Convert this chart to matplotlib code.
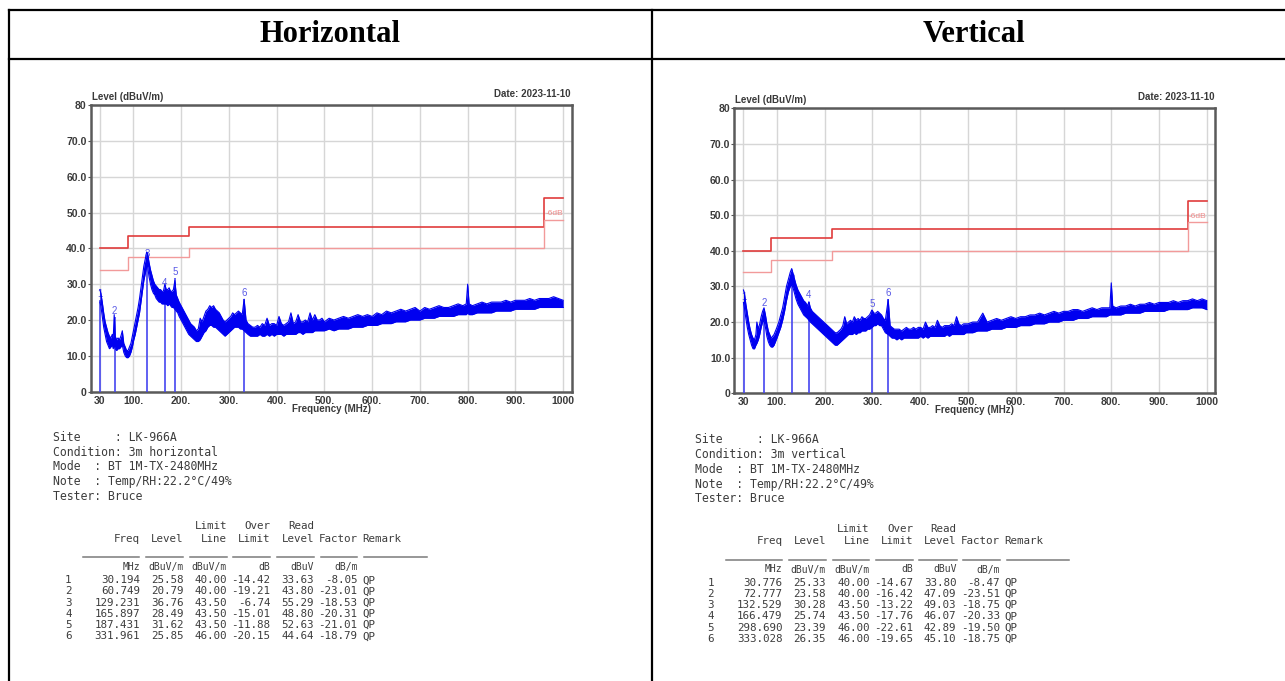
import matplotlib.pyplot as plt
from matplotlib.lines import Line2D
from matplotlib.transforms import ScaledTranslation

W, H = 1285, 681

# ---- scan trace, horizontal (band low / high) ----
h_freq = [30, 32, 35, 38, 41, 44, 47, 50, 53, 56, 58, 60, 62, 65, 68, 71, 74, 77, 80, 83,
          86, 89, 92, 95, 98, 101, 104, 107, 110, 113, 116, 119, 122, 125, 128, 130, 133, 136, 139, 142,
          145, 148, 151, 154, 157, 160, 163, 166, 169, 172, 175, 178, 181, 184, 187, 190, 193, 196, 200, 204,
          208, 212, 216, 220, 224, 228, 232, 236, 240, 244, 248, 252, 256, 260, 264, 268, 272, 276, 280, 284,
          288, 292, 296, 300, 304, 308, 312, 316, 320, 324, 328, 332, 336, 340, 345, 350, 355, 360, 365, 370,
          375, 380, 385, 390, 395, 400, 405, 410, 415, 420, 425, 430, 435, 440, 445, 450, 455, 460, 465, 470,
          475, 480, 485, 490, 495, 500, 510, 520, 530, 540, 550, 560, 570, 580, 590, 600, 610, 620, 630, 640,
          650, 660, 670, 680, 690, 700, 710, 720, 730, 740, 750, 760, 770, 780, 790, 797, 800, 803, 810, 820,
          830, 840, 850, 860, 870, 880, 890, 900, 910, 920, 930, 940, 950, 960, 970, 980, 990, 1000]
h_low = [25.0, 24.0, 21.0, 18.0, 16.0, 14.0, 13.0, 12.0, 12.5, 13.0, 12.0, 13.0, 12.0, 11.5, 12.0, 12.0, 12.5, 13.0, 11.0, 10.0,
         9.5, 9.5, 10.0, 11.0, 12.5, 14.5, 16.0, 18.0, 20.0, 22.0, 25.0, 28.0, 31.0, 33.0, 35.0, 35.0, 32.0, 30.0, 28.5, 27.5,
         27.0, 26.0, 25.5, 25.0, 25.0, 24.5, 24.5, 24.5, 24.5, 24.0, 24.5, 24.0, 23.5, 23.5, 23.0, 22.5, 22.0, 21.0, 20.0, 19.0,
         18.0, 17.0, 16.0, 15.5, 15.0, 14.5, 14.0, 14.0, 14.5, 15.5, 16.5, 17.0, 18.0, 18.5, 18.5, 18.0, 18.0, 17.5, 17.0, 16.5,
         16.0, 15.5, 16.0, 16.5, 17.0, 17.5, 18.0, 18.0, 18.0, 17.5, 17.5, 17.0, 16.5, 16.0, 15.5, 15.5, 15.5, 15.5, 16.0, 15.5,
         15.5, 16.0, 15.5, 16.0, 15.5, 16.0, 16.0, 16.0, 15.5, 16.0, 16.0, 16.0, 16.0, 16.0, 16.5, 16.5, 16.0, 16.5, 16.5, 16.5,
         16.5, 17.0, 17.0, 17.0, 17.0, 17.0, 17.5, 17.0, 17.5, 17.5, 17.5, 18.0, 18.0, 18.0, 18.5, 18.5, 18.5, 19.0, 19.0, 19.0,
         19.5, 19.5, 19.5, 20.0, 20.0, 20.0, 20.5, 20.5, 20.5, 21.0, 21.0, 21.0, 21.0, 21.5, 21.5, 21.5, 22.0, 21.5, 21.5, 22.0,
         22.0, 22.0, 22.0, 22.5, 22.5, 22.5, 22.5, 23.0, 23.0, 23.0, 23.0, 23.0, 23.5, 23.5, 23.5, 23.5, 23.5, 23.5]
h_high = [28.5, 27.5, 25.0, 22.0, 19.5, 18.0, 16.5, 15.5, 15.0, 16.0, 15.0, 21.5, 15.5, 14.5, 15.0, 14.5, 15.5, 17.0, 13.5, 12.5,
          11.5, 11.5, 12.5, 13.5, 15.5, 17.5, 19.5, 21.5, 23.5, 26.0, 29.0, 32.0, 35.0, 37.0, 39.0, 38.5, 36.0, 34.0, 32.5, 31.0,
          30.0, 29.5, 29.0, 28.5, 28.5, 28.0, 28.0, 30.0, 28.5, 28.5, 29.0, 28.0, 28.0, 28.5, 31.0, 27.0, 26.0, 25.0, 24.0, 23.0,
          22.0, 21.0, 20.0, 19.0, 18.5, 18.0, 17.0, 17.5, 20.5, 19.5, 21.0, 22.5, 23.0, 24.0, 23.5, 24.0, 23.0, 22.5, 22.0, 21.0,
          20.0, 19.5, 20.0, 20.5, 21.0, 22.0, 21.5, 22.0, 22.5, 22.0, 21.5, 25.8, 20.0, 19.0, 18.5, 18.0, 18.0, 18.5, 18.0, 19.0,
          18.5, 20.5, 18.5, 19.0, 19.0, 18.5, 21.0, 19.0, 18.5, 19.0, 19.5, 22.0, 19.0, 19.5, 21.5, 19.5, 19.5, 20.0, 19.5, 22.0,
          20.0, 21.5, 20.0, 20.0, 20.5, 19.5, 20.5, 20.0, 20.5, 21.0, 20.5, 21.0, 21.5, 21.0, 21.5, 21.0, 22.0, 21.5, 22.5, 22.0,
          22.5, 23.0, 22.5, 23.0, 23.5, 22.5, 23.5, 23.0, 23.5, 24.0, 23.5, 23.5, 24.0, 24.5, 24.0, 24.5, 30.0, 24.5, 24.0, 24.5,
          25.0, 24.5, 25.0, 25.0, 25.0, 25.5, 25.0, 25.5, 25.5, 25.5, 26.0, 25.5, 26.0, 26.0, 26.0, 26.5, 26.0, 25.5]

# ---- scan trace, vertical ----
v_freq = [30, 32, 35, 38, 41, 44, 47, 50, 53, 56, 58, 61, 64, 67, 70, 73, 76, 79, 82, 85,
          88, 91, 94, 97, 100, 104, 108, 112, 116, 120, 124, 128, 131, 134, 137, 140, 144, 148, 152, 156,
          160, 164, 167, 170, 174, 178, 182, 186, 190, 194, 198, 202, 206, 210, 214, 218, 222, 226, 230, 234,
          238, 242, 246, 250, 254, 258, 262, 266, 270, 274, 278, 282, 286, 290, 294, 299, 303, 307, 311, 315,
          319, 323, 327, 333, 337, 341, 346, 351, 356, 361, 366, 371, 376, 381, 386, 391, 396, 401, 406, 411,
          416, 421, 426, 431, 436, 441, 446, 451, 456, 461, 466, 471, 476, 481, 486, 491, 496, 500, 510, 520,
          531, 540, 550, 560, 570, 580, 590, 600, 610, 620, 630, 640, 650, 660, 670, 680, 690, 700, 710, 720,
          730, 740, 750, 760, 770, 780, 790, 797, 800, 803, 810, 820, 830, 840, 850, 860, 870, 880, 890, 900,
          910, 920, 930, 940, 950, 960, 970, 980, 990, 1000]
v_low = [25.5, 24.0, 21.0, 18.5, 16.5, 15.0, 13.5, 12.5, 12.5, 13.5, 14.0, 15.0, 16.5, 18.5, 20.0, 20.5, 18.5, 16.0, 14.5, 13.5,
         13.0, 13.0, 13.5, 14.5, 15.5, 17.0, 18.5, 20.5, 23.0, 26.0, 28.5, 30.0, 30.5, 29.5, 28.0, 26.5, 25.0, 24.0, 23.0, 22.0,
         21.5, 21.0, 20.5, 20.0, 19.5, 19.0, 18.5, 18.0, 17.5, 17.0, 16.5, 16.0, 15.5, 15.0, 14.5, 14.0, 13.5, 13.5, 14.0, 14.5,
         15.0, 15.5, 16.0, 16.5, 16.5, 16.5, 17.0, 16.5, 17.0, 17.0, 17.5, 17.5, 17.5, 18.0, 18.0, 18.5, 19.0, 19.0, 19.5, 19.0,
         19.0, 18.0, 17.0, 16.5, 16.0, 15.5, 15.5, 15.0, 15.5, 15.0, 15.5, 15.5, 15.5, 15.5, 15.5, 15.5, 15.5, 16.0, 15.5, 16.0,
         15.5, 16.0, 16.0, 16.0, 16.0, 16.0, 16.0, 16.0, 16.5, 16.0, 16.5, 16.5, 16.5, 16.5, 16.5, 16.5, 17.0, 17.0, 17.0, 17.5,
         17.5, 17.5, 18.0, 18.0, 18.0, 18.5, 18.5, 18.5, 19.0, 19.0, 19.0, 19.5, 19.5, 19.5, 20.0, 20.0, 20.0, 20.5, 20.5, 20.5,
         21.0, 21.0, 21.0, 21.5, 21.5, 21.5, 21.5, 22.0, 22.0, 22.0, 22.0, 22.0, 22.5, 22.5, 22.5, 22.5, 23.0, 23.0, 23.0, 23.0,
         23.0, 23.5, 23.5, 23.5, 23.5, 23.5, 24.0, 24.0, 24.0, 23.5]
v_high = [29.0, 28.0, 25.0, 22.5, 20.0, 18.0, 16.5, 15.5, 15.0, 16.5, 20.0, 18.0, 19.5, 21.5, 23.0, 24.0, 22.0, 19.5, 17.5, 16.5,
          15.5, 16.0, 16.5, 17.5, 18.5, 20.0, 22.0, 24.0, 27.0, 30.0, 32.0, 34.0, 35.0, 33.5, 32.0, 30.5, 29.0, 28.0, 27.0, 26.0,
          25.5, 24.5, 25.7, 24.0, 23.0, 22.5, 22.0, 21.5, 21.0, 20.5, 20.0, 19.5, 19.0, 18.5, 18.0, 17.5, 17.0, 17.0, 17.5, 18.0,
          19.0, 21.5, 19.5, 20.0, 20.5, 20.0, 21.5, 20.5, 21.0, 20.5, 21.5, 21.0, 21.0, 21.5, 22.0, 23.4, 22.5, 22.5, 23.0, 22.5,
          22.0, 21.0, 20.5, 26.3, 19.0, 18.5, 18.0, 18.0, 18.0, 17.5, 18.0, 18.5, 18.0, 18.0, 18.5, 18.0, 18.5, 18.5, 18.0, 20.0,
          18.5, 18.5, 19.0, 18.5, 20.5, 19.0, 18.5, 19.0, 19.0, 19.0, 19.5, 19.0, 21.5, 19.5, 19.0, 19.5, 19.5, 19.5, 20.0, 20.0,
          22.5, 20.0, 20.5, 21.0, 20.5, 21.0, 21.5, 21.0, 21.5, 21.5, 22.0, 22.0, 22.5, 22.0, 22.5, 23.0, 22.5, 23.0, 23.0, 23.5,
          23.5, 23.0, 23.5, 24.0, 23.5, 24.0, 24.0, 24.0, 31.0, 24.5, 24.0, 24.5, 24.5, 25.0, 24.5, 25.0, 25.0, 25.5, 25.0, 25.5,
          25.5, 25.5, 26.0, 25.5, 26.0, 26.0, 26.5, 26.0, 26.5, 26.0]

# ---- limit lines ----
limit_freq = [30, 88, 216, 960, 1000]
limit_level = [40.0, 43.5, 46.0, 54.0, 54.0]
margin_level = [34.0, 37.5, 40.0, 48.0, 48.0]

x_ticks = [30, 100, 200, 300, 400, 500, 600, 700, 800, 900, 1000]
x_labels = ['30', '100.', '200.', '300.', '400.', '500.', '600.', '700.', '800.', '900.', '1000']
y_ticks = [0, 10, 20, 30, 40, 50, 60, 70, 80]
y_labels = ['0', '10.0', '20.0', '30.0', '40.0', '50.0', '60.0', '70.0', '80']

# ---- marker tables ----
h_mk_freq = [30.194, 60.749, 129.231, 165.897, 187.431, 331.961]
h_mk_level = [25.58, 20.79, 36.76, 28.49, 31.62, 25.85]
h_mk_limit = [40.00, 40.00, 43.50, 43.50, 43.50, 46.00]
h_mk_over = [-14.42, -19.21, -6.74, -15.01, -11.88, -20.15]
h_mk_read = [33.63, 43.80, 55.29, 48.80, 52.63, 44.64]
h_mk_factor = [-8.05, -23.01, -18.53, -20.31, -21.01, -18.79]

v_mk_freq = [30.776, 72.777, 132.529, 166.479, 298.690, 333.028]
v_mk_level = [25.33, 23.58, 30.28, 25.74, 23.39, 26.35]
v_mk_limit = [40.00, 40.00, 43.50, 43.50, 46.00, 46.00]
v_mk_over = [-14.67, -16.42, -13.22, -17.76, -22.61, -19.65]
v_mk_read = [33.80, 47.09, 49.03, 46.07, 42.89, 45.10]
v_mk_factor = [-8.47, -23.51, -18.75, -20.33, -19.50, -18.75]


fig = plt.figure(figsize=(W / 100, H / 100), dpi=100)


def fx(x):
    return x / W


def fy(y):
    return 1 - y / H


def fig_line(x0, y0, x1, y1, **kw):
    fig.add_artist(Line2D([fx(x0), fx(x1)], [fy(y0), fy(y1)], transform=fig.transFigure, **kw))


# table frame of the document
for y in (10, 59):
    fig_line(9, y, W, y, color='black', lw=1.6)
for x in (9, 652):
    fig_line(x, 10, x, H, color='black', lw=1.6)
fig.text(fx(330.5), fy(35), 'Horizontal', family='Liberation Serif', weight='bold',
         fontsize=22, ha='center', va='center')
fig.text(fx(973.5), fy(35), 'Vertical', family='Liberation Serif', weight='bold',
         fontsize=22, ha='center', va='center')

sans = dict(family='Liberation Sans', weight='bold', color='#3a3a3a')


def off(ax, dx, dy):
    return ax.transAxes + ScaledTranslation(dx / 100, dy / 100, fig.dpi_scale_trans)


def draw_chart(rect, freq, low, high, mk_freq, mk_level):
    ax = fig.add_axes(rect)
    ax.set_xlim(10.8, 1017.8)
    ax.set_ylim(0, 80)
    ax.set_xticks(x_ticks)
    ax.set_xticklabels(x_labels, fontsize=7.5, **sans)
    ax.set_yticks(y_ticks)
    ax.set_yticklabels(y_labels, fontsize=7.5, **sans)
    ax.tick_params(axis='x', length=0, pad=3)
    ax.tick_params(axis='y', length=2, pad=1, color='#555555')
    ax.grid(color='#d6d6d6', lw=1)
    ax.set_axisbelow(True)
    for sp in ax.spines.values():
        sp.set_color('#5a5a5a')
        sp.set_linewidth(1.8)

    ax.step(limit_freq, limit_level, where='post', color='#e03c3c', lw=1.2, zorder=2)
    ax.step(limit_freq, margin_level, where='post', color='#f29a9a', lw=1.0, zorder=2)
    ax.text(963, 49.6, '-6dB', color='#f08a8a', fontsize=6, va='center', ha='left',
            family='Liberation Sans')

    ax.vlines(mk_freq, 0, mk_level, color='#4646f0', lw=1.2, zorder=3)
    for i, (f, lv) in enumerate(zip(mk_freq, mk_level)):
        ax.text(f, lv + 1.8, str(i + 1), color='#5a5ae6', fontsize=7, ha='center',
                va='center', family='Liberation Sans', zorder=3)

    ax.fill_between(freq, low, high, color='#0000f0', lw=0, zorder=4)
    ax.plot(freq, high, color='#0000f0', lw=0.8, zorder=4)
    ax.plot(freq, low, color='#0000f0', lw=0.8, zorder=4)

    ax.text(0, 1, 'Level (dBuV/m)', transform=off(ax, 1, 3), fontsize=7, ha='left', va='bottom', **sans)
    ax.text(1, 1, 'Date: 2023-11-10', transform=off(ax, -1, 6), fontsize=7, ha='right', va='bottom', **sans)
    ax.text(0.5, 0, 'Frequency (MHz)', transform=off(ax, 0, -17), fontsize=7, ha='center', va='center', **sans)
    return ax


draw_chart([fx(90.7), fy(391.7), 481 / W, 286.7 / H], h_freq, h_low, h_high, h_mk_freq, h_mk_level)
draw_chart([fx(734.3), fy(393.3), 481 / W, 285 / H], v_freq, v_low, v_high, v_mk_freq, v_mk_level)

mono = dict(family='DejaVu Sans Mono', color='#3c3c3c', va='center')
col_right = [140, 183.5, 227, 270.5, 314, 357.5]
rule_segs = [(83.3, 139.3), (146, 183.3), (190, 226.7), (233.3, 270), (276.7, 314), (320.7, 357.3), (364, 426.7)]


def draw_info(dx, dy, cond, mk_freq, mk_level, mk_limit, mk_over, mk_read, mk_factor):
    head = ['Site     : LK-966A',
            'Condition: ' + cond,
            'Mode  : BT 1M-TX-2480MHz',
            'Note  : Temp/RH:22.2°C/49%',
            'Tester: Bruce']
    for i, s in enumerate(head):
        fig.text(fx(52.7 + dx), fy(437.3 + dy + 14.75 * i), s, fontsize=8.3, ha='left', **mono)

    for c, s in zip([2, 3, 4], ['Limit', 'Over', 'Read']):
        fig.text(fx(col_right[c] + dx), fy(526 + dy), s, fontsize=7.8, ha='right', **mono)
    for c, s in enumerate(['Freq', 'Level', 'Line', 'Limit', 'Level', 'Factor']):
        fig.text(fx(col_right[c] + dx), fy(539 + dy), s, fontsize=7.8, ha='right', **mono)
    fig.text(fx(362 + dx), fy(539 + dy), 'Remark', fontsize=7.8, ha='left', **mono)
    for a, b in rule_segs:
        fig_line(a + dx, 557 + dy, b + dx, 557 + dy, color='#7a7a7a', lw=1.1)
    for c, s in enumerate(['MHz', 'dBuV/m', 'dBuV/m', 'dB', 'dBuV', 'dB/m']):
        fig.text(fx(col_right[c] + dx), fy(567 + dy), s, fontsize=7, ha='right', **mono)

    for i in range(len(mk_freq)):
        y = fy(580.3 + dy + 11.2 * i)
        vals = ['%.3f' % mk_freq[i], '%.2f' % mk_level[i], '%.2f' % mk_limit[i],
                '%.2f' % mk_over[i], '%.2f' % mk_read[i], '%.2f' % mk_factor[i]]
        fig.text(fx(68.3 + dx), y, str(i + 1), fontsize=7.8, ha='center', **mono)
        for c, s in enumerate(vals):
            fig.text(fx(col_right[c] + dx), y, s, fontsize=7.8, ha='right', **mono)
        fig.text(fx(362 + dx), y, 'QP', fontsize=7.8, ha='left', **mono)


draw_info(0, 0, '3m horizontal', h_mk_freq, h_mk_level, h_mk_limit, h_mk_over, h_mk_read, h_mk_factor)
draw_info(642.5, 2.5, '3m vertical', v_mk_freq, v_mk_level, v_mk_limit, v_mk_over, v_mk_read, v_mk_factor)

fig.savefig('out.png', dpi=100)
